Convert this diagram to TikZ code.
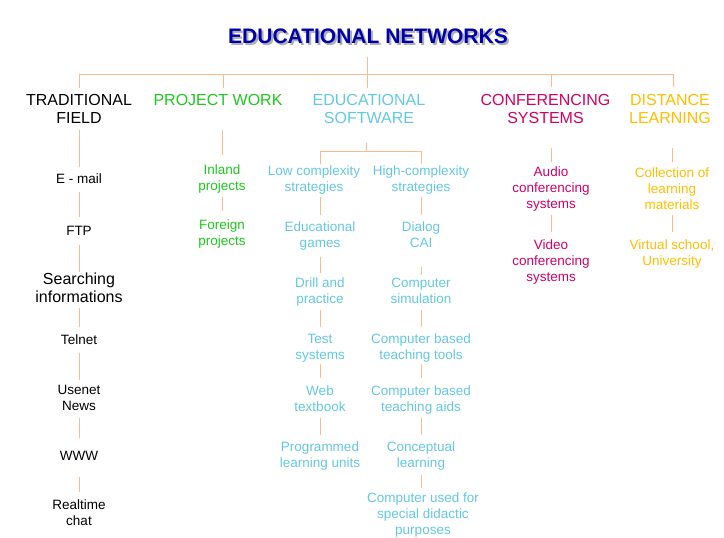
\documentclass[tikz,border=0pt]{standalone}
\usepackage{fontspec}
\setmainfont{Liberation Sans}
\definecolor{linec}{RGB}{250,188,140}
\definecolor{pgreen}{RGB}{30,200,30}
\definecolor{sky}{RGB}{100,200,225}
\definecolor{crim}{RGB}{210,0,100}
\definecolor{amber}{RGB}{255,190,0}
\definecolor{tblue}{RGB}{0,0,170}
\definecolor{tshade}{RGB}{175,175,175}
\newcommand\vlink[4]{\draw[conn, shorten <=#3bp, shorten >=#4bp] (#2.north |- #1.south) -- (#2.north);}
\begin{document}
\begin{tikzpicture}[x=1bp,y=-1bp,
  conn/.style={draw=linec, line width=1bp},
  item/.style={inner sep=0pt, outer sep=0pt, align=center, font=\fontsize{13.5bp}{16bp}\selectfont},
  head/.style={inner sep=0pt, outer sep=0pt, align=center, font=\fontsize{16bp}{18bp}\selectfont},
  ttl/.style={inner sep=0pt, outer sep=0pt, anchor=base, font=\fontsize{21bp}{24bp}\selectfont\bfseries}
]
\useasboundingbox[fill=white] (0,0) rectangle (724,538);

% title
\node[ttl, text=tshade] (tshadow) at (370,45.5) {EDUCATIONAL NETWORKS};
\node[ttl, text=tblue] (title) at (368,43.5) {EDUCATIONAL NETWORKS};

% headers
\node[head, text=black] (trad) at (79,111) {\strut TRADITIONAL\\\strut FIELD};
\node[head, text=pgreen] (proj) at (218,102) {\strut PROJECT WORK};
\node[head, text=sky] (edu) at (369,111) {\strut EDUCATIONAL\\\strut SOFTWARE};
\node[head, text=crim] (conf) at (545.5,110.5) {\strut CONFERENCING\\\strut SYSTEMS};
\node[head, text=amber] (dist) at (670,110.5) {\strut DISTANCE\\\strut LEARNING};

% traditional field
\node[item] (email) at (79,180) {\strut E - mail};
\node[item] (ftp) at (79,232) {\strut FTP};
\node[head] (search) at (79,290) {\strut Searching\\\strut informations};
\node[item] (telnet) at (79,341) {\strut Telnet};
\node[item] (usenet) at (79,399) {\strut Usenet\\\strut News};
\node[item] (www) at (79,457) {\strut WWW};
\node[item] (realtime) at (79,514) {\strut Realtime\\\strut chat};

% project work
\node[item, text=pgreen] (inland) at (222,179) {\strut Inland\\\strut projects};
\node[item, text=pgreen] (foreign) at (222,234) {\strut Foreign\\\strut projects};

% educational software
\node[item, text=sky] (lowc) at (314,180) {\strut Low complexity\\\strut strategies};
\node[item, text=sky] (highc) at (421,180) {\strut High-complexity\\\strut strategies};
\node[item, text=sky] (edgames) at (320,236) {\strut Educational\\\strut games};
\node[item, text=sky] (drill) at (320,292) {\strut Drill and\\\strut practice};
\node[item, text=sky] (test) at (320,348) {\strut Test\\\strut systems};
\node[item, text=sky] (web) at (320,400) {\strut Web\\\strut textbook};
\node[item, text=sky] (prog) at (320,456) {\strut Programmed\\\strut learning units};
\node[item, text=sky] (dialog) at (421,236) {\strut Dialog\\\strut CAI};
\node[item, text=sky] (csim) at (421,292) {\strut Computer\\\strut simulation};
\node[item, text=sky] (cbtt) at (421,348) {\strut Computer based\\\strut teaching tools};
\node[item, text=sky] (cbta) at (421,400) {\strut Computer based\\\strut teaching aids};
\node[item, text=sky] (concl) at (421,456) {\strut Conceptual\\\strut learning};
\node[item, text=sky] (cused) at (423,515) {\strut Computer used for\\\strut special didactic\\\strut purposes};

% conferencing
\node[item, text=crim] (audio) at (551,189) {\strut Audio\\\strut conferencing\\\strut systems};
\node[item, text=crim] (video) at (551,262) {\strut Video\\\strut conferencing\\\strut systems};

% distance learning
\node[item, text=amber] (coll) at (672,190) {\strut Collection of\\\strut learning\\\strut materials};
\node[item, text=amber] (virt) at (672,254) {\strut Virtual school,\\\strut University};

% top connectors
\coordinate (hub) at (367,75);
\draw[conn, shorten <=13.5bp, shorten >=5bp] (hub |- title.south) -- (hub |- edu.north);
\draw[conn, shorten >=5bp] (hub) -| (trad.north);
\draw[conn, shorten >=5bp] (hub) -| ([xshift=5bp]proj.north);
\draw[conn, shorten >=5bp] (hub) -| ([xshift=5.5bp]conf.north);
\draw[conn, shorten >=5bp] (hub) -| ([xshift=3bp]dist.north);

% traditional chain
\vlink{trad}{email}{1}{5}
\vlink{email}{ftp}{4}{7}
\vlink{ftp}{search}{5}{0}
\vlink{search}{telnet}{0}{6}
\vlink{telnet}{usenet}{4}{3}
\vlink{usenet}{www}{3}{11}
\vlink{www}{realtime}{12}{6}

% project chain
\vlink{proj}{inland}{19}{8}
\vlink{inland}{foreign}{2}{7}

% educational software
\coordinate (ehub) at (366,152);
\draw[conn, shorten <=14bp] (ehub |- edu.south) -- (ehub);
\draw[conn] (ehub) -| ([xshift=6bp]lowc.north);
\draw[conn] (ehub) -| (highc.north);
\vlink{lowc}{edgames}{1}{5}
\vlink{edgames}{drill}{5}{3}
\vlink{drill}{test}{2}{5}
\vlink{test}{web}{0}{6}
\vlink{web}{prog}{2}{5}
\vlink{highc}{dialog}{1}{5}
\vlink{dialog}{csim}{15}{1}
\vlink{csim}{cbtt}{2}{5}
\vlink{cbtt}{cbta}{0}{6}
\vlink{cbta}{concl}{2}{5}
\draw[conn, shorten <=3bp, shorten >=3bp] (concl.south) -- (concl.south |- cused.north);

% conferencing chain
\vlink{conf}{audio}{19.5}{3}
\vlink{audio}{video}{2}{6}

% distance chain
\vlink{dist}{coll}{19.5}{4}
\vlink{coll}{virt}{1}{6}
\end{tikzpicture}
\end{document}
